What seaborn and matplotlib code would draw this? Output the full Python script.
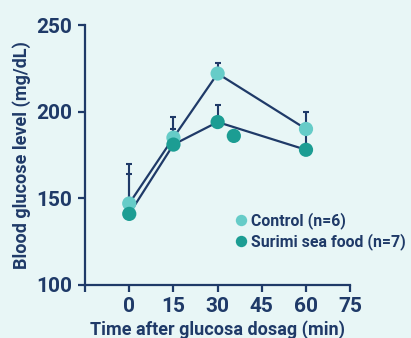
import numpy as np
import pandas as pd
import matplotlib
matplotlib.use("Agg")
import matplotlib.pyplot as plt
import seaborn as sns

# values
times = [0, 15, 30, 60]
control_mean = [147, 185, 222, 190]
control_upper = [170, 197, 228, 200]
surimi_mean = [141, 181, 194, 178]
surimi_upper = [164, 190, 204, 188]
stray_time = [35.5]
stray_value = [186]

groups = ["Control (n=6)", "Surimi sea food (n=7)"]
colors = ["#66ccc8", "#1c9d93"]
navy = "#1f3a68"
bg = "#e8f6f6"

df = pd.DataFrame({
    "time": times * 2,
    "glucose": control_mean + surimi_mean,
    "upper": control_upper + surimi_upper,
    "group": [groups[0]] * 4 + [groups[1]] * 4,
})

sns.set_style("white")
plt.rcParams["font.family"] = ["Roboto", "DejaVu Sans"]
plt.rcParams["font.weight"] = "bold"

fig = plt.figure(figsize=(4.11, 3.38), dpi=100, facecolor=bg)
ax = fig.add_axes([0.207, 0.157, 0.645, 0.769])
ax.set_facecolor(bg)

# one-sided error bars
for g in groups:
    sub = df[df.group == g]
    err = sub.upper.values - sub.glucose.values
    ax.errorbar(sub.time, sub.glucose, yerr=[np.zeros_like(err), err],
                fmt="none", ecolor=navy, elinewidth=1.5, capsize=2,
                capthick=1.5, zorder=1)

sns.lineplot(data=df, x="time", y="glucose", units="group", estimator=None,
             color=navy, linewidth=1.6, ax=ax, zorder=2, legend=False)
sns.scatterplot(data=df, x="time", y="glucose", hue="group", palette=colors,
                s=105, edgecolor="none", ax=ax, zorder=3)
sns.scatterplot(x=stray_time, y=stray_value, color=colors[1], s=105,
                edgecolor="none", ax=ax, zorder=3)

ax.set_xlim(-15, 75)
ax.set_ylim(100, 250)
ax.set_xticks([-15, 0, 15, 30, 45, 60, 75])
ax.set_xticklabels(["", "0", "15", "30", "45", "60", "75"])
ax.set_yticks([100, 150, 200, 250])

for s in ["top", "right"]:
    ax.spines[s].set_visible(False)
for s in ["left", "bottom"]:
    ax.spines[s].set_color(navy)
    ax.spines[s].set_linewidth(1.6)
ax.tick_params(axis="both", colors=navy, width=1.6, length=5, labelsize=15,
               left=True, bottom=True, pad=4)
for lab in ax.get_xticklabels() + ax.get_yticklabels():
    lab.set_fontweight("bold")

ax.set_xlabel("Time after glucosa dosag (min)", color=navy, fontsize=13,
              fontweight="bold", labelpad=3)
ax.set_ylabel("Blood glucose level (mg/dL)", color=navy, fontsize=13,
              fontweight="bold", labelpad=4)

leg = ax.legend(loc="upper left", bbox_to_anchor=(0.535, 0.305), frameon=False,
                fontsize=11.4, handletextpad=0.1, labelspacing=0.25,
                markerscale=0.8, borderaxespad=0, handlelength=1.0)
for t in leg.get_texts():
    t.set_color(navy)
    t.set_fontweight("bold")

fig.savefig("out.png", dpi=100, facecolor=bg)
